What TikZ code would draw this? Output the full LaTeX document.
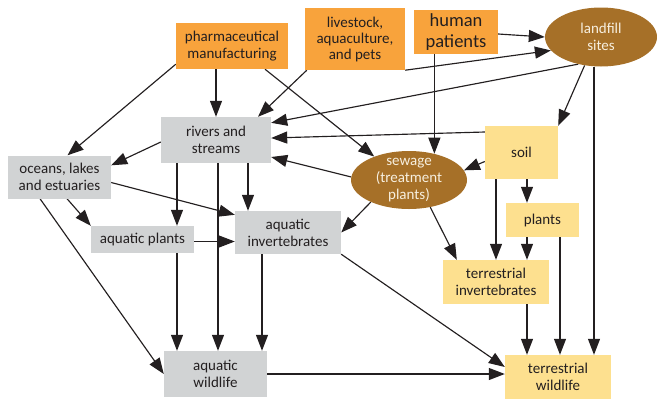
\documentclass[tikz,border=0pt]{standalone}
\usepackage{fontspec}
\setmainfont{Carlito}
\usetikzlibrary{arrows.meta,shapes.geometric,backgrounds}
\definecolor{orng}{HTML}{F8A33C}
\definecolor{brn}{HTML}{A67028}
\definecolor{gry}{HTML}{D1D3D4}
\definecolor{yel}{HTML}{FDE08F}
\definecolor{txt}{HTML}{231F20}
\definecolor{ltxt}{HTML}{F7EFDF}
\tikzset{
  box/.style={rectangle, inner sep=0pt, align=center, text=txt, font=\fontsize{15}{17}\selectfont},
  src/.style={box, fill=orng},
  aq/.style={box, fill=gry},
  ter/.style={box, fill=yel},
  ell/.style={ellipse, fill=brn, inner sep=0pt},
  elltext/.style={inner sep=0pt, align=center, text=ltxt, font=\fontsize{15}{17}\selectfont},
  arr/.style={-{Triangle[length=16pt,width=12pt]}, line width=1.15pt, draw=txt}
}
\begin{document}
\begin{tikzpicture}[x=1pt,y=-1pt]
\useasboundingbox (0,0) rectangle (657,400);
% sources
\node[src, minimum width=112pt, minimum height=46pt] (pharma) at (232,46) {pharmaceutical\\manufacturing};
\node[src, minimum width=100pt, minimum height=62pt, font=\fontsize{15}{16}\selectfont] (livestock) at (355,39) {livestock,\\aquaculture,\\and pets};
\node[src, minimum width=84pt, minimum height=44pt, font=\fontsize{18.5}{21}\selectfont] (human) at (456,32) {human\\patients};
\node[ell, minimum width=112pt, minimum height=59pt] (landfill) at (601,37) {};
\node[elltext] (landfillt) at (landfill) {landfill\\sites};
% aquatic
\node[aq, minimum width=110pt, minimum height=46pt] (rivers) at (216,140) {rivers and\\streams};
\node[aq, minimum width=103pt, minimum height=43pt] (oceans) at (59.5,177) {oceans, lakes\\and estuaries};
\node[aq, minimum width=103pt, minimum height=27pt] (aplants) at (142.5,239.5) {aquatic plants};
\node[aq, minimum width=106pt, minimum height=43pt] (ainv) at (288,232.5) {aquatic\\invertebrates};
\node[aq, minimum width=103pt, minimum height=46pt] (awild) at (215.5,374) {aquatic\\wildlife};
% sewage
\node[ell, minimum width=116pt, minimum height=58pt] (sewage) at (409,180) {};
\node[elltext] (sewaget) at (sewage) {sewage\\(treatment\\plants)};
% terrestrial
\node[ter, minimum width=73pt, minimum height=53pt] (soil) at (521.5,152.5) {soil};
\node[ter, minimum width=73pt, minimum height=34pt] (plants) at (542.5,220) {plants};
\node[ter, minimum width=106pt, minimum height=44pt] (tinv) at (496,282) {terrestrial\\invertebrates};
\node[ter, minimum width=106pt, minimum height=44pt] (twild) at (558,377) {terrestrial\\wildlife};

\begin{scope}[on background layer]
\coordinate (lfx) at ([xshift=36pt]twild.north);
\coordinate (xA) at ([xshift=-39pt]rivers.south);
\coordinate (xB) at ([xshift=2pt]rivers.south);
\coordinate (xC) at ([xshift=32pt]rivers.south);
\coordinate (xD) at ([xshift=-26pt]ainv.south);
\coordinate (xE) at ([xshift=5.5pt]soil.south);
\coordinate (xF) at ([xshift=17.5pt]plants.south);
\draw[arr] ([yshift=5pt]pharma.south west) -- ([xshift=8pt]oceans.north);
\draw[arr] (pharma.south -| rivers.north) -- (rivers.north);
\draw[arr] ([xshift=33pt]pharma.south) -- (sewage.146);
\draw[arr] ([xshift=2pt]livestock.south west) -- ([xshift=42pt]rivers.north);
\draw[arr] (livestock.south east) -- (landfill.195);
\draw[arr] ([yshift=-2pt]human.east) -- (landfill.west);
\draw[arr] (landfill.230) -- ([yshift=-6pt]rivers.north east);
\draw[arr] (landfill.240) -- (soil.north east);
\draw[arr] (landfill.south -| lfx) -- (lfx);
\draw[arr] (human.south -| sewage.46) -- (sewage.46);
\draw[arr] ([yshift=20.5pt]soil.west) -- ([yshift=2pt]rivers.east);
\draw[arr] (sewage.177) -- ([yshift=-17pt]rivers.east);
\draw[arr] ([yshift=-9pt]soil.west) -- (sewage.10);
\draw[arr] ([yshift=-2pt]rivers.west) -- ([yshift=-10pt]oceans.north east);
\draw[arr] (xA) -- (xA |- aplants.north);
\draw[arr] (xB) -- (xB |- awild.north);
\draw[arr] (xC) -- (xC |- ainv.north);
\draw[arr] ([yshift=-5.5pt]oceans.east) -- ([yshift=-4pt]ainv.north west);
\draw[arr] ([xshift=7.5pt]oceans.south) -- (aplants.north west);
\draw[arr] ([xshift=-19.5pt]oceans.south) -- (awild.west);
\draw[arr] ([yshift=-2pt]aplants.east) -- ([yshift=-2pt]aplants.east -| ainv.west);
\draw[arr] (xA |- aplants.south) -- (xA |- awild.north);
\draw[arr] (xD) -- (xD |- awild.north);
\draw[arr] (ainv.south east) -- ([yshift=10pt]twild.west);
\draw[arr] (awild.east) -- (awild.east -| twild.west);
\draw[arr] (sewage.210) -- (ainv.east);
\draw[arr] (sewage.308) -- ([xshift=14pt]tinv.north west);
\draw[arr] (tinv.north |- soil.south) -- (tinv.north);
\draw[arr] (xE) -- (xE |- plants.north);
\draw[arr] (xE |- plants.south) -- (xE |- tinv.north);
\draw[arr] (xE |- tinv.south) -- (xE |- twild.north);
\draw[arr] (xF) -- (xF |- twild.north);
\end{scope}
\end{tikzpicture}
\end{document}
